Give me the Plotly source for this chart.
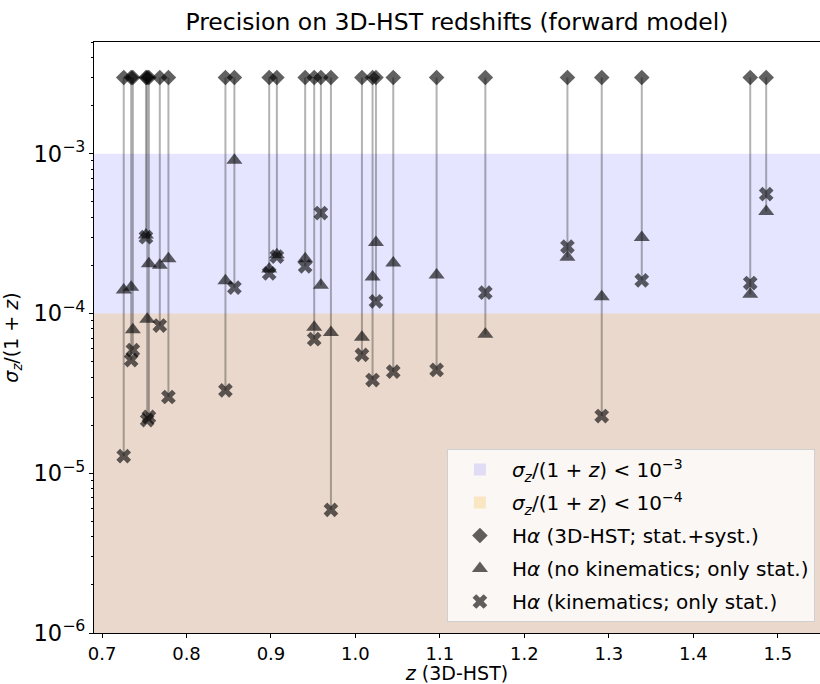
import plotly.graph_objects as go

# redshift of each object (3D-HST)
z = [0.7257, 0.7345, 0.7365, 0.7520, 0.7535, 0.7555, 0.7684, 0.7786, 0.8461,
     0.8567, 0.8979, 0.9070, 0.9405, 0.9512, 0.9591, 0.9710, 1.0077, 1.0203,
     1.0243, 1.0448, 1.0961, 1.1538, 1.2510, 1.2916, 1.3390, 1.4674, 1.4863]

# sigma_z / (1 + z)
sig_3dhst = [3e-3, 3e-3, 3e-3, 3e-3, 3e-3, 3e-3, 3e-3, 3e-3, 3e-3,
             3e-3, 3e-3, 3e-3, 3e-3, 3e-3, 3e-3, 3e-3, 3e-3, 3e-3,
             3e-3, 3e-3, 3e-3, 3e-3, 3e-3, 3e-3, 3e-3, 3e-3, 3e-3]
sig_nokin = [1.40e-4, 1.46e-4, 7.9e-5, 3.1e-4, 9.2e-5, 2.05e-4, 2.0e-4, 2.2e-4, 1.6e-4,
             9.1e-4, 1.9e-4, 2.33e-4, 2.2e-4, 8.2e-5, 1.5e-4, 7.6e-5, 7.1e-5, 1.69e-4,
             2.78e-4, 2.07e-4, 1.74e-4, 7.4e-5, 2.25e-4, 1.27e-4, 2.99e-4, 1.32e-4, 4.35e-4]
sig_kin = [1.28e-5, 5.1e-5, 5.9e-5, 3.0e-4, 2.15e-5, 2.25e-5, 8.4e-5, 3.0e-5, 3.3e-5,
           1.45e-4, 1.78e-4, 2.27e-4, 1.97e-4, 6.9e-5, 4.25e-4, 5.9e-6, 5.5e-5, 3.83e-5,
           1.19e-4, 4.32e-5, 4.43e-5, 1.35e-4, 2.62e-4, 2.28e-5, 1.61e-4, 1.55e-4, 5.58e-4]

label_3dhst = "H<i>α</i> (3D-HST; stat.+syst.)"
label_nokin = "H<i>α</i> (no kinematics; only stat.)"
label_kin = "H<i>α</i> (kinematics; only stat.)"
sig_label = "<i>σ<sub>z</sub></i>/(1 + <i>z</i>)"

mcolor = 'rgba(0,0,0,0.62)'

fig = go.Figure()

# precision bands
fig.add_hrect(y0=1e-7, y1=1e-3, fillcolor='blue', opacity=0.1, line_width=0,
              layer='below', showlegend=True, legendrank=1, legendgroup='b1',
              name=sig_label + " < 10<sup>−3</sup>")
fig.add_hrect(y0=1e-7, y1=1e-4, fillcolor='orange', opacity=0.2, line_width=0,
              layer='below', showlegend=True, legendrank=2, legendgroup='b2',
              name=sig_label + " < 10<sup>−4</sup>")

# vertical connectors from 3D-HST value down to the lowest estimate
lx, ly = [], []
for zi, a, b, c in zip(z, sig_3dhst, sig_nokin, sig_kin):
    lx += [zi, zi, None]
    ly += [a, min(b, c), None]
fig.add_trace(go.Scatter(x=lx, y=ly, mode='lines', showlegend=False,
                         line=dict(color='rgba(0,0,0,0.3)', width=2),
                         hoverinfo='skip'))

fig.add_trace(go.Scatter(x=z, y=sig_3dhst, mode='markers', name=label_3dhst,
                         legendrank=3, legendgroup='m1',
                         marker=dict(symbol='diamond', size=12, color=mcolor)))
fig.add_trace(go.Scatter(x=z, y=sig_nokin, mode='markers', name=label_nokin,
                         legendrank=4, legendgroup='m2',
                         marker=dict(symbol='triangle-up', size=14, color=mcolor)))
fig.add_trace(go.Scatter(x=z, y=sig_kin, mode='markers', name=label_kin,
                         legendrank=5, legendgroup='m3',
                         marker=dict(symbol='x', size=13, color=mcolor)))

axis_font = dict(family="DejaVu Sans", size=18, color='black')

fig.update_layout(
    width=820, height=684,
    margin=dict(l=94, r=0, t=42, b=51, autoexpand=False),
    template='plotly_white',
    plot_bgcolor='white',
    font=dict(family="DejaVu Sans", size=18, color='black'),
    title=dict(text="Precision on 3D-HST redshifts (forward model)",
               x=0.5, xref='paper', xanchor='center',
               y=1 - 22 / 684, yref='container', yanchor='middle',
               font=dict(size=23.5)),
    xaxis=dict(range=[0.6905, 1.55], dtick=0.1, tickformat='.1f',
               showgrid=False, zeroline=False, showline=True, mirror=True,
               linecolor='black', linewidth=1, ticks='outside', ticklen=4,
               tickwidth=1, tickcolor='black', tickfont=axis_font,
               title=dict(text="<i>z</i> (3D-HST)", font=dict(family="DejaVu Sans", size=19),
                          standoff=3)),
    yaxis=dict(type='log', range=[-6, -2.301], dtick=1, exponentformat='power',
               showgrid=False, zeroline=False, showline=True, mirror=False,
               linecolor='black', linewidth=1, ticks='outside', ticklen=4,
               tickwidth=1, tickcolor='black', tickfont=axis_font,
               minor=dict(ticks='outside', ticklen=2, tickcolor='black', dtick='D1'),
               title=dict(text=sig_label, font=dict(family="DejaVu Sans", size=19),
                          standoff=10)),
    legend=dict(x=0.993, y=0.0186, xanchor='right', yanchor='bottom',
                bgcolor='rgba(255,255,255,0.8)', bordercolor='#d0d0d0',
                borderwidth=1, font=dict(size=20), traceorder='grouped',
                tracegroupgap=4, itemwidth=54),
)

fig.write_html("out.html", config={'displayModeBar': False},
               post_script="document.body.style.margin='0';")
